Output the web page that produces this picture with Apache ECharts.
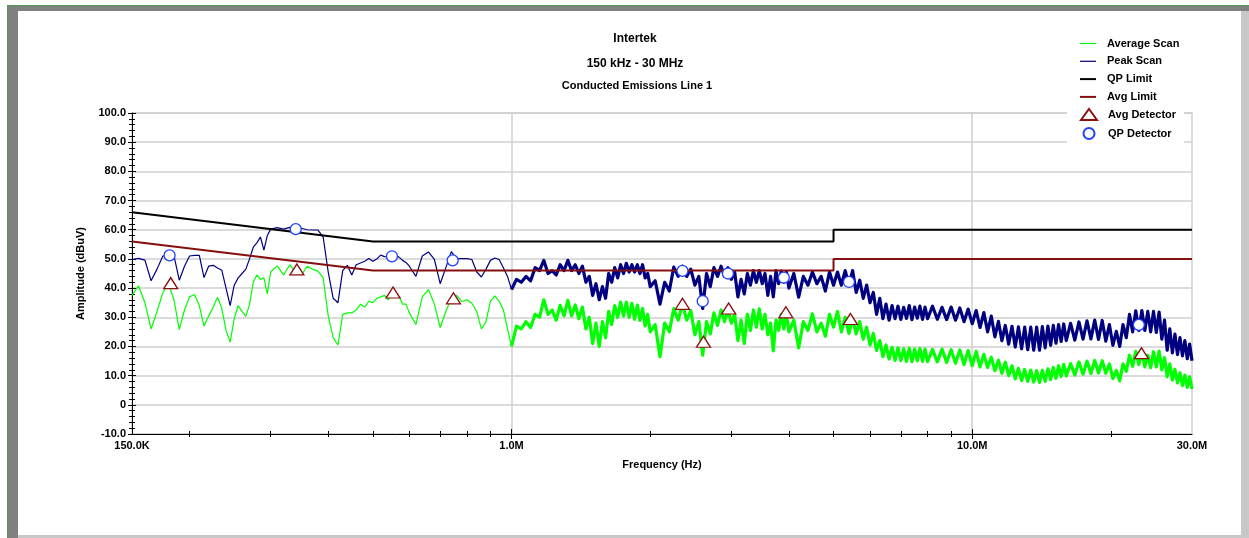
<!DOCTYPE html>
<html>
<head>
<meta charset="utf-8">
<title>Conducted Emissions Line 1</title>
<script src="https://cdn.jsdelivr.net/npm/echarts@6/dist/echarts.min.js"></script>
<style>
html, body { margin: 0; padding: 0; background: #fff; }
#main { width: 1249px; height: 538px; }
</style>
</head>
<body>
<div id="main"></div>
<script>
// sweep frequencies in MHz (shared by both scans)
var scanFreqs = [
  // 150 kHz - 1 MHz
  0.15,0.155,0.16,0.165,0.17,0.175,0.18,0.185,0.19,0.195,0.2,0.205,0.21,0.215,0.22,0.225,0.23,0.235,0.24,0.245,
  0.25,0.255,0.26,0.265,0.27,0.275,0.28,0.285,0.29,0.295,0.3,
  0.31,0.32,0.33,0.34,0.35,0.36,0.37,0.38,0.39,0.4,0.41,0.42,0.43,0.44,0.45,0.46,0.47,0.48,0.49,0.5,
  0.51,0.52,0.53,0.54,0.55,0.56,0.57,0.58,0.59,0.6,
  0.62,0.64,0.66,0.68,0.7,0.72,0.74,0.76,0.78,0.8,0.82,0.84,0.86,0.88,0.9,0.92,0.94,0.96,0.98,1,
  // 1 - 2 MHz
  1.025,1.05,1.075,1.1,1.125,1.15,1.175,1.2,1.225,1.25,1.275,1.3,1.325,1.35,1.375,1.4,1.425,1.45,1.475,1.5,
  1.525,1.55,1.575,1.6,1.625,1.65,1.675,1.7,1.725,1.75,1.775,1.8,1.825,1.85,1.875,1.9,1.925,1.95,1.975,
  // 2 - 4 MHz
  2,2.05,2.1,2.15,2.2,2.25,2.3,2.35,2.4,2.45,2.5,2.55,2.6,2.65,2.7,2.75,2.8,2.85,2.9,2.95,
  3,3.05,3.1,3.15,3.2,3.25,3.3,3.35,3.4,3.45,3.5,3.55,3.6,3.65,3.7,3.75,3.8,3.85,3.9,3.95,
  // 4 - 8 MHz
  4,4.1,4.2,4.3,4.4,4.5,4.6,4.7,4.8,4.9,5,5.1,5.2,5.3,5.4,5.5,5.6,5.7,5.8,5.9,
  6,6.1,6.2,6.3,6.4,6.5,6.6,6.7,6.8,6.9,7,7.1,7.2,7.3,7.4,7.5,7.6,7.7,7.8,7.9,
  // 8 - 16 MHz
  8,8.2,8.4,8.6,8.8,9,9.2,9.4,9.6,9.8,10,10.2,10.4,10.6,10.8,11,11.2,11.4,11.6,11.8,
  12,12.2,12.4,12.6,12.8,13,13.2,13.4,13.6,13.8,14,14.2,14.4,14.6,14.8,15,15.2,15.4,15.6,15.8,
  // 16 - 30 MHz
  16,16.35,16.7,17.05,17.4,17.75,18.1,18.45,18.8,19.15,19.5,19.85,20.2,20.55,20.9,21.25,21.6,21.95,22.3,22.65,
  23,23.35,23.7,24.05,24.4,24.75,25.1,25.45,25.8,26.15,26.5,26.85,27.2,27.55,27.9,28.25,28.6,28.95,29.3,29.65,30
];

var avgScan = [
  37.5,40.8,35,26,32,38.4,41.5,36,25.8,32.5,37,37.8,34,27,30.4,33.4,36.9,33,25.5,21.5,
  29.5,34,32,30.3,34.5,42,44.5,43,43.5,38,45.5,
  47.6,44.5,48,45.5,44.5,47.5,46.5,45.8,43.5,30.5,23,20.5,31,31.5,31.5,32.5,34.5,33.5,35.5,35,
  36.5,37,37.5,36,38.5,37,37.2,34.5,34.5,31.5,
  27.5,37,39.5,34.5,26.5,32,36.5,37.5,35.4,36,34.8,32,26,28.5,35.5,37.3,35.5,32.5,26,20,
  27,26,28.5,26.5,31,30,36,31,32.5,29,34.1,30.5,35.8,30.5,34.2,29.5,33.5,26,30,21,
  28,20,28.5,23,32,27.5,34,30,35.2,30.5,35.2,30,34.8,29.3,34.2,28.9,33,27,31,
  25,27.5,16.5,28,25,33,29,34.6,29,32.3,24,28.5,17,28.5,24.3,31.5,27.2,32.5,28.5,32.5,
  28,31,22,29,21,31,25.5,32.5,26.6,32.9,26,31,24,28,18.5,29,25.5,31,26,31,
  25,29,19.5,28.5,25.5,31.2,25,28,23.5,31,26.6,32,25,30,24.5,29.5,24.3,28.5,22.5,26.6,
  20.5,24.5,18.6,22,16.5,20.5,15.7,19.7,15.2,19.5,15.1,19.2,14.9,19.4,14.8,19.1,15.1,19.3,14.9,19.1,
  14.8,19,14.7,19.1,14.5,18.9,14.2,18.8,13.8,18.6,13.4,18.3,13,17.3,12.8,16.3,11.7,15.3,10.8,14.6,
  10,13.4,8.9,12.5,8.3,12.1,8,11.9,7.8,11.7,7.7,11.8,8,12.3,8.6,12.8,9.1,13.4,9.7,13.9,
  9.9,14.1,10.2,14.7,10.5,15,10.7,15.2,10.9,15.1,10.8,14,9,11.8,8.2,14,11.5,17,13.2,18.3,
  13.8,18.4,13,17,12.7,18.2,13,18.4,12,16.2,9.6,14,8.5,12.2,7.5,11,6.6,10.2,6,9.6,5.4
];

var peakScan = [
  49.8,50.2,49.6,42.5,46.5,51,51.2,51,42.7,47.5,51,51.2,51.2,43.6,47.5,47.8,46.9,46.1,40,34,
  41,43.5,45,46.5,50.1,54,55.5,57.5,53,58,60.2,
  60.7,60.2,60.8,60.2,60.5,60,59.9,59.9,57.5,45.5,36.5,35,46,47.8,44.5,48,48.6,49.2,50.1,49.2,
  50,51.3,50.8,50.7,50.9,51.3,50.6,49.5,48.8,47.5,
  44,51,52.4,49.8,41.5,47,52.5,50.1,50.1,50.1,49.8,45.6,43.8,46.5,49.5,50.3,49.8,47,44,39.5,
  43,42,44,42.5,47,46,49.5,45,46,44.5,48,46,49.5,46,48,45,47.5,42,44,37.5,
  41.5,36,40.5,36.5,45,42,47,43.5,48,45,48.5,45.5,48,45.5,48,45,48,43.5,45,
  40.5,42.5,34.5,42,39,47.2,44,47.5,44,46.5,41,44,33,45,40.5,47,44,47.5,44,47,
  43,45.5,37,43,38,45,41,46,42,46,41.5,45,37.5,44,37,46,41.5,45.8,42,45.5,
  40,45,36.9,44,41,45.5,41.5,44,39,45.5,41,45.5,41,46,41,46,38.5,42.7,36.5,41,
  35,38.5,31,36.5,29.5,34.5,29,34,29.5,33.8,29.3,33.4,29.6,34,29.2,33.5,29.7,33.8,29.3,33.5,
  29.5,33.8,29.3,33.4,29.2,33.5,29,33.2,28.5,32.8,27.8,32.3,26.5,31.6,25,30.4,23.3,28.6,22,27.2,
  20.8,26.9,19.8,26.7,19.2,26.6,18.9,26.6,18.7,26.6,18.7,26.8,19.5,27,20.4,27.2,21.1,27.5,21.7,27.7,
  22,27.9,22.2,28.4,22.5,28.8,22.6,29,22.4,28.9,21.8,27.5,20.4,25.2,20,27.5,23,31,25,32.2,
  25.5,32.3,25.5,32,25,32,24.8,31.8,22.5,29,18.7,26,17.8,24.2,17.2,23,16.8,22,15.8,20.8,15.1
];

// CISPR style limits
var limitFreqs = [0.15, 0.5, 5, 5, 30];
var qpLimit = [66, 56, 56, 60, 60];
var avgLimit = [56, 46, 46, 50, 50];

// final measurements
var qpDetFreqs = [0.181, 0.34, 0.55, 0.745, 2.35, 2.6, 2.95, 3.9, 5.4, 23.0];
var qpDet = [51.2, 60.2, 50.9, 49.5, 45.9, 35.5, 45.0, 43.6, 42.1, 27.4];
var avgDetFreqs = [0.182, 0.342, 0.553, 0.748, 2.35, 2.61, 2.96, 3.94, 5.44, 23.3];
var avgDet = [41.7, 46.4, 38.5, 36.5, 34.6, 21.6, 33.0, 31.7, 29.4, 17.7];

// axis ticks / labels
var xLabelValues = [0.15, 1, 10, 30];
var xLabels = ['150.0K', '1.0M', '10.0M', '30.0M'];
var xMajorTicks = [1, 10];
var xMinorTicks = [0.2, 0.3, 0.4, 0.5, 0.6, 0.7, 0.8, 0.9, 2, 3, 4, 5, 6, 7, 8, 9, 20];

var FONT = '"Liberation Sans", Arial, sans-serif';

function pairs(xs, ys, from, to) {
    var out = [];
    for (var i = from; i < to; i++) out.push([xs[i], ys[i]]);
    return out;
}
var cut = scanFreqs.indexOf(1);
var n = scanFreqs.length;

var xBase = { type: 'log', min: 0.15, max: 30, gridIndex: 0, position: 'bottom' };
function xAxisExtra(ticks, inside, len) {
    return Object.assign({}, xBase, {
        axisLine: { show: false, onZero: false },
        axisLabel: { show: false },
        splitLine: { show: false },
        axisTick: { show: true, inside: inside, length: len, customValues: ticks, lineStyle: { color: '#000' } }
    });
}
var legendText = { fontFamily: FONT, fontSize: 11, fontWeight: 'bold', color: '#000', padding: [0, 0, 0, 6] };

var chart = echarts.init(document.getElementById('main'));

var option = {
    animation: false,
    backgroundColor: '#fff',
    textStyle: { fontFamily: FONT },
    title: [
        { text: 'Intertek', left: 630, top: 28, textAlign: 'center',
          textStyle: { fontFamily: FONT, fontSize: 12, fontWeight: 'bold', color: '#000' } },
        { text: '150 kHz - 30 MHz', left: 630, top: 53, textAlign: 'center',
          textStyle: { fontFamily: FONT, fontSize: 12, fontWeight: 'bold', color: '#000' } },
        { text: 'Conducted Emissions Line 1', left: 632, top: 75, textAlign: 'center',
          textStyle: { fontFamily: FONT, fontSize: 11, fontWeight: 'bold', color: '#000' } }
    ],
    legend: [
        {
            orient: 'vertical', left: 1067, top: 30,
            padding: [8, 8, 2, 13],
            itemWidth: 16, itemHeight: 11, itemGap: 6.8,
            backgroundColor: '#fff',
            data: [
                { name: 'Average Scan', icon: 'path://M0,0H16V1.2H0Z' },
                { name: 'Peak Scan', icon: 'path://M0,0H16V1.2H0Z' },
                { name: 'QP Limit', icon: 'path://M0,0H16V2H0Z' },
                { name: 'Avg Limit', icon: 'path://M0,0H16V2H0Z' }
            ],
            textStyle: legendText
        },
        {
            orient: 'vertical', left: 1067, top: 105,
            padding: [3, 8, 3, 13],
            itemWidth: 16, itemHeight: 11, itemGap: 6,
            backgroundColor: '#fff',
            data: [
                { name: 'Avg Detector', icon: 'triangle' },
                { name: 'QP Detector', icon: 'circle' }
            ],
            textStyle: legendText
        }
    ],
    grid: {
        left: 132, right: 57, top: 113, bottom: 104,
        show: true, borderColor: '#cfcfcf', borderWidth: 1.5
    },
    xAxis: [
        Object.assign({}, xBase, {
            name: 'Frequency (Hz)',
            nameLocation: 'middle',
            nameGap: 25,
            nameTextStyle: { fontFamily: FONT, fontSize: 11, fontWeight: 'bold', color: '#000' },
            axisLine: { show: true, onZero: false, lineStyle: { color: '#000', width: 1 } },
            axisTick: { show: true, length: 5, customValues: xMajorTicks, lineStyle: { color: '#000' } },
            axisLabel: {
                customValues: xLabelValues,
                margin: 6,
                fontFamily: FONT, fontSize: 11, fontWeight: 'bold', color: '#000',
                formatter: function (v) {
                    for (var i = 0; i < xLabelValues.length; i++) {
                        if (Math.abs(xLabelValues[i] - v) < 1e-6 * xLabelValues[i]) return xLabels[i];
                    }
                    return '';
                }
            },
            splitLine: { show: true, lineStyle: { color: '#cfcfcf', width: 1.5 } },
            minorTick: { show: false },
            minorSplitLine: { show: false }
        }),
        xAxisExtra(xMajorTicks, true, 5),
        xAxisExtra(xMinorTicks, false, 3),
        xAxisExtra(xMinorTicks, true, 3)
    ],
    yAxis: [
        {
            type: 'value', min: -10, max: 100, interval: 10, position: 'left',
            name: 'Amplitude (dBuV)',
            nameLocation: 'middle',
            nameGap: 46,
            nameTextStyle: { fontFamily: FONT, fontSize: 11, fontWeight: 'bold', color: '#000' },
            axisLine: { show: true, onZero: false, lineStyle: { color: '#000', width: 1 } },
            axisTick: { show: true, length: 4, lineStyle: { color: '#000' } },
            minorTick: { show: true, splitNumber: 5, length: 3, lineStyle: { color: '#000' } },
            splitLine: { show: true, lineStyle: { color: '#cfcfcf', width: 1.5 } },
            axisLabel: {
                margin: 6,
                fontFamily: FONT, fontSize: 11, fontWeight: 'bold', color: '#000',
                formatter: function (v) { return v === 0 ? '0' : v.toFixed(1); }
            }
        },
        {
            type: 'value', min: -10, max: 100, interval: 10, position: 'left',
            axisLine: { show: false, onZero: false },
            axisLabel: { show: false },
            splitLine: { show: false },
            axisTick: { show: true, inside: true, length: 4, lineStyle: { color: '#000' } },
            minorTick: { show: true, splitNumber: 5, length: 3, lineStyle: { color: '#000' } }
        }
    ],
    graphic: [
        { type: 'rect', silent: true, shape: { x: 7, y: 5, width: 1242, height: 1 }, style: { fill: '#4f9a4f' } },
        { type: 'rect', silent: true, shape: { x: 7, y: 5, width: 1, height: 533 }, style: { fill: '#4f9a4f' } },
        { type: 'rect', silent: true, shape: { x: 8, y: 6, width: 1241, height: 5 }, style: { fill: '#808080' } },
        { type: 'rect', silent: true, shape: { x: 8, y: 6, width: 10, height: 532 }, style: { fill: '#808080' } },
        { type: 'rect', silent: true, shape: { x: 1241, y: 11, width: 8, height: 527 }, style: { fill: '#c8c8c8' } },
        { type: 'rect', silent: true, shape: { x: 18, y: 535, width: 1223, height: 3 }, style: { fill: '#c8c8c8' } }
    ],
    series: [
        {
            name: 'Average Scan', type: 'line', symbol: 'none', z: 2,
            lineStyle: { color: '#00ff00', width: 1.2 }, itemStyle: { color: '#00ff00' },
            data: pairs(scanFreqs, avgScan, 0, cut + 1)
        },
        {
            name: 'Average Scan', type: 'line', symbol: 'none', z: 2,
            lineStyle: { color: '#00ff00', width: 3.2, join: 'round' }, itemStyle: { color: '#00ff00' },
            data: pairs(scanFreqs, avgScan, cut, n)
        },
        {
            name: 'Peak Scan', type: 'line', symbol: 'none', z: 3,
            lineStyle: { color: '#000080', width: 1.2 }, itemStyle: { color: '#000080' },
            data: pairs(scanFreqs, peakScan, 0, cut + 1)
        },
        {
            name: 'Peak Scan', type: 'line', symbol: 'none', z: 3,
            lineStyle: { color: '#000080', width: 3.2, join: 'round' }, itemStyle: { color: '#000080' },
            data: pairs(scanFreqs, peakScan, cut, n)
        },
        {
            name: 'QP Limit', type: 'line', symbol: 'none', z: 4,
            lineStyle: { color: '#000000', width: 2 }, itemStyle: { color: '#000000' },
            data: pairs(limitFreqs, qpLimit, 0, limitFreqs.length)
        },
        {
            name: 'Avg Limit', type: 'line', symbol: 'none', z: 4,
            lineStyle: { color: '#850f0f', width: 2 }, itemStyle: { color: '#850f0f' },
            data: pairs(limitFreqs, avgLimit, 0, limitFreqs.length)
        },
        {
            name: 'Avg Detector', type: 'scatter', symbol: 'triangle', symbolSize: [14, 11], z: 5,
            itemStyle: { color: '#ffffff', borderColor: '#8b1010', borderWidth: 1.3, opacity: 1 },
            data: pairs(avgDetFreqs, avgDet, 0, avgDet.length)
        },
        {
            name: 'QP Detector', type: 'scatter', symbol: 'circle', symbolSize: 11, z: 5,
            itemStyle: { color: '#ffffff', borderColor: '#2040ff', borderWidth: 1.3, opacity: 1 },
            data: pairs(qpDetFreqs, qpDet, 0, qpDet.length)
        }
    ]
};

chart.setOption(option);
</script>
</body>
</html>
